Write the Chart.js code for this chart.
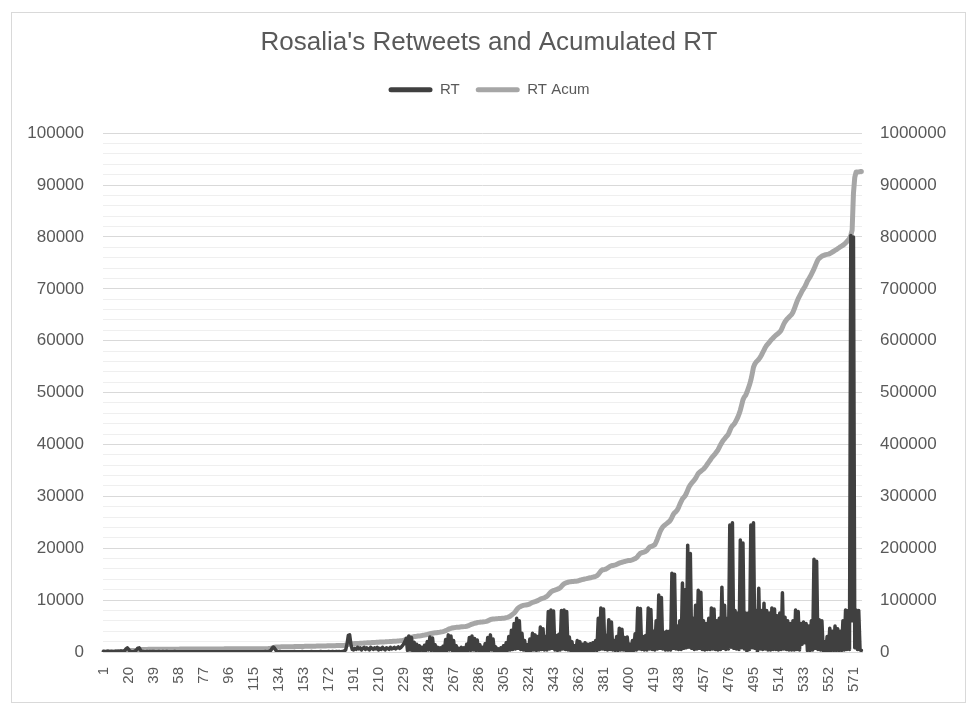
<!DOCTYPE html>
<html>
<head>
<meta charset="utf-8">
<script src="https://cdn.jsdelivr.net/npm/chart.js@4.4.1/dist/chart.umd.min.js"></script>
<style>
  html, body { margin: 0; padding: 0; background: #ffffff; }
  #wrap { width: 973px; height: 708px; }
</style>
</head>
<body>
<div id="wrap"><canvas id="chart" width="973" height="708"></canvas></div>
<script>
// Retweets per tweet (left axis)
const rt = [
  120, 80, 60, 150, 90, 40, 110, 70, 60, 130,
  90, 150, 70, 200, 120, 150, 250, 600, 800, 500,
  150, 90, 60, 120, 200, 400, 750, 800, 350, 120,
  90, 50, 70, 110, 60, 90, 40, 80, 120, 60,
  70, 40, 90, 60, 30, 80, 50, 40, 100, 60,
  40, 70, 30, 50, 80, 40, 60, 30, 70, 50,
  40, 60, 30, 50, 40, 70, 30, 50, 60, 40,
  30, 50, 70, 40, 60, 30, 50, 40, 70, 30,
  60, 40, 50, 30, 70, 40, 60, 50, 30, 60,
  40, 70, 30, 50, 60, 40, 30, 70, 50, 40,
  60, 30, 50, 40, 70, 50, 30, 60, 40, 50,
  70, 40, 30, 60, 50, 40, 70, 30, 50, 60,
  40, 60, 50, 80, 60, 90, 150, 300, 700, 950,
  700, 300, 120, 60, 80, 50, 70, 40, 60, 50,
  50, 70, 40, 60, 30, 80, 50, 40, 70, 60,
  40, 80, 50, 30, 60, 70, 40, 50, 80, 60,
  30, 60, 50, 70, 40, 90, 50, 60, 40, 70,
  50, 80, 40, 60, 90, 50, 70, 100, 60, 80,
  60, 80, 120, 200, 400, 1500, 3200, 3300, 1400, 500,
  400, 700, 500, 900, 600, 800, 400, 700, 900, 500,
  800, 600, 400, 900, 700, 500, 800, 600, 900, 400,
  700, 500, 900, 600, 400, 800, 700, 500, 900, 600,
  700, 900, 600, 800, 1000, 700, 900, 1200, 1500, 2000,
  2600, 300, 3100, 400, 2800, 200, 1900, 300, 1500, 200,
  1200, 300, 900, 200, 1300, 300, 2000, 400, 2900, 300,
  2700, 300, 1400, 200, 900, 100, 800, 200, 1100, 200,
  2400, 300, 3300, 400, 3100, 300, 2200, 200, 1200, 200,
  700, 100, 900, 200, 800, 100, 1500, 300, 2800, 300,
  3100, 400, 2600, 300, 2300, 300, 1400, 200, 900, 100,
  1600, 200, 2800, 300, 3300, 400, 2500, 200, 1000, 100,
  600, 100, 800, 200, 1200, 200, 1800, 300, 3000, 400,
  4200, 500, 5500, 600, 6500, 700, 6000, 500, 3600, 400,
  2200, 300, 1400, 200, 2500, 300, 3600, 400, 3300, 300,
  3000, 400, 4800, 500, 4500, 400, 3000, 400, 7800, 600,
  8100, 700, 7900, 400, 3200, 300, 3400, 400, 8000, 600,
  8100, 500, 7800, 400, 2900, 300, 2000, 200, 1200, 100,
  2200, 200, 2000, 300, 1500, 200, 1800, 300, 1500, 200,
  1600, 200, 1800, 300, 2200, 300, 6500, 500, 8500, 600,
  8300, 500, 3200, 400, 6200, 500, 5800, 400, 2200, 300,
  3000, 300, 4600, 400, 4400, 400, 2800, 300, 2900, 200,
  1500, 200, 2200, 300, 3500, 400, 8500, 600, 8400, 500,
  3000, 400, 3200, 400, 8500, 600, 8200, 500, 4000, 400,
  6000, 600, 11000, 700, 10500, 600, 3800, 400, 4000, 400,
  4000, 400, 15200, 700, 15000, 600, 5000, 500, 6000, 500,
  13300, 700, 12000, 800, 20600, 900, 19000, 700, 6500, 500,
  9000, 600, 11900, 700, 11500, 500, 6000, 400, 5500, 500,
  6500, 500, 8500, 600, 8300, 500, 6000, 400, 6500, 500,
  12500, 700, 9000, 500, 6500, 600, 24500, 900, 24900, 700,
  8000, 600, 7500, 500, 21600, 800, 21000, 600, 7500, 100,
  7500, 500, 24500, 800, 24900, 700, 8000, 100, 12300, 600,
  8000, 500, 9400, 600, 8000, 400, 7500, 400, 8500, 500,
  8300, 500, 7000, 400, 7500, 500, 11400, 600, 6700, 500,
  6000, 400, 5500, 400, 6000, 400, 8100, 500, 7800, 400,
  5500, 1500, 5800, 1800, 5500, 300, 5000, 300, 6000, 400,
  17900, 700, 17500, 500, 6200, 400, 6000, 300, 2000, 100,
  3000, 200, 4600, 300, 4000, 300, 5000, 300, 4500, 300,
  4000, 300, 6000, 400, 8100, 500, 8000, 500, 80300, 6000,
  80000, 800, 8100, 500, 8000, 400, 300
];

// Accumulated retweets (right axis)
const rtAcum = [
  0, 100, 200, 300, 350, 400, 450, 500, 520, 600,
  650, 700, 750, 800, 900, 1000, 1200, 1600, 2200, 2600,
  2700, 2800, 2850, 2900, 3000, 3300, 3900, 4500, 4800, 4900,
  4950, 5000, 5020, 5050, 5080, 5100, 5120, 5150, 5180, 5200,
  5220, 5240, 5260, 5280, 5300, 5320, 5340, 5360, 5380, 5400,
  5420, 5440, 5450, 5470, 5490, 5500, 5520, 5530, 5550, 5560,
  5580, 5590, 5600, 5620, 5630, 5650, 5660, 5680, 5690, 5700,
  5720, 5730, 5750, 5760, 5780, 5790, 5800, 5820, 5830, 5850,
  5860, 5880, 5890, 5900, 5920, 5930, 5950, 5960, 5980, 5990,
  6000, 6020, 6030, 6050, 6060, 6080, 6090, 6100, 6120, 6130,
  6150, 6160, 6180, 6190, 6200, 6220, 6230, 6250, 6260, 6280,
  6290, 6300, 6320, 6330, 6350, 6360, 6380, 6390, 6400, 6420,
  6430, 6450, 6460, 6480, 6500, 6550, 6700, 7000, 7700, 8600,
  9300, 9600, 9700, 9760, 9840, 9890, 9960, 10000, 10060, 10110,
  10160, 10230, 10270, 10330, 10360, 10440, 10490, 10530, 10600, 10660,
  10700, 10780, 10830, 10860, 10920, 10990, 11030, 11080, 11160, 11220,
  11250, 11310, 11360, 11430, 11470, 11560, 11610, 11670, 11710, 11780,
  11830, 11910, 11950, 12010, 12100, 12150, 12220, 12320, 12380, 12460,
  12500, 12600, 12700, 12900, 13200, 13800, 14600, 15300, 15700, 15900,
  16000, 16200, 16300, 16500, 16600, 16800, 16900, 17100, 17300, 17400,
  17600, 17700, 17800, 18000, 18200, 18300, 18500, 18600, 18800, 18900,
  19100, 19200, 19400, 19500, 19600, 19800, 20000, 20100, 20300, 20400,
  20600, 20800, 20900, 21100, 21400, 21600, 21900, 22300, 22800, 23500,
  25000, 26500, 27500, 28000, 28600, 29000, 29700, 30000, 30300, 30700,
  31000, 31300, 31800, 32400, 32700, 33100, 33800, 34600, 35300, 35800,
  36200, 36600, 36900, 37100, 37500, 37800, 38400, 38800, 39400, 40200,
  41100, 42300, 43600, 44800, 45500, 46300, 46800, 47100, 47500, 47700,
  47900, 48200, 48500, 48700, 48900, 49200, 49600, 50300, 51500, 52800,
  53800, 54500, 55300, 55800, 56700, 57100, 57400, 57600, 57900, 58100,
  58500, 59100, 60000, 61200, 62400, 63200, 63600, 63800, 64000, 64300,
  64400, 64600, 64700, 65000, 65200, 65600, 66200, 66800, 67700, 68900,
  71000, 73000, 75000, 78000, 81500, 84500, 86500, 87800, 89000, 89800,
  90300, 90700, 91000, 91700, 92800, 94200, 95500, 96400, 97000, 98000,
  99000, 100500, 102000, 103000, 103700, 104600, 105800, 107500, 110000, 112800,
  115600, 117400, 118500, 119200, 120100, 121200, 122200, 123800, 126400, 129200,
  131500, 132800, 133700, 134400, 135100, 135600, 135900, 136100, 136300, 136400,
  136800, 137400, 138300, 139100, 139600, 140300, 140900, 141400, 142000, 142600,
  143200, 143700, 144400, 145000, 145900, 147000, 149500, 152800, 156000, 158400,
  158600, 159200, 160000, 161600, 163400, 165200, 166200, 166800, 167300, 168000,
  168800, 170200, 171500, 172400, 173000, 173800, 174300, 175100, 175800, 176200,
  176500, 177000, 177700, 178900, 179800, 181600, 184500, 187600, 190200, 191300,
  192100, 192700, 193800, 196000, 199100, 202100, 203200, 204100, 205600, 206700,
  212000, 218000, 225000, 232000, 237000, 241000, 243500, 245500, 247500, 249500,
  251500, 254500, 259500, 265000, 268500, 270500, 273500, 278500, 284500, 290000,
  295000, 298000, 301000, 306000, 312000, 318000, 322000, 325500, 328500, 331500,
  335000, 339500, 344000, 346500, 348500, 350500, 352500, 355500, 358500, 362500,
  366000, 369500, 373500, 376500, 379500, 382500, 386000, 389500, 394500, 399500,
  404000, 408000, 411000, 414000, 417000, 420500, 426500, 432500, 436000, 438500,
  442000, 447000, 452000, 458500, 466000, 476000, 486000, 491500, 494500, 500500,
  507500, 515000, 524000, 536000, 549000, 555000, 559000, 561500, 564000, 567500,
  572000, 577000, 582000, 587000, 591000, 594000, 597000, 600000, 603000, 605500,
  608000, 610500, 612500, 614500, 617000, 620000, 626000, 632000, 636500, 640000,
  643000, 645500, 648000, 650500, 655000, 661000, 668000, 675000, 681000, 686000,
  691000, 696000, 700000, 704000, 709000, 715000, 719000, 723000, 728000, 733000,
  738500, 744500, 750500, 756000, 759000, 761000, 763000, 764000, 765000, 766000,
  766500, 767000, 768000, 769500, 771000, 772500, 774000, 775500, 777500, 779000,
  781000, 782500, 784000, 786000, 788500, 791000, 794000, 797000, 803000, 813000,
  884000, 915000, 925000, 925000, 925500, 926000, 926000
];

// Tweet numbers shown under the category axis
const xTickLabels = ['1','20','39','58','77','96','115','134','153','172','191','210','229','248','267','286','305','324','343','362','381','400','419','438','457','476','495','514','533','552','571'];

// Tweet index categories 1..N
const categories = [];
for (let i = 1; i <= rt.length; i++) categories.push(String(i));

const FONT = "'Liberation Sans', Arial, sans-serif";
const TEXT = '#595959';
Chart.defaults.font.family = FONT;

// White background with a thin frame around the whole chart
const frame = {
  id: 'frame',
  beforeDraw(chart) {
    const c = chart.ctx;
    c.save();
    c.fillStyle = '#ffffff';
    c.fillRect(0, 0, chart.width, chart.height);
    c.strokeStyle = '#d9d9d9';
    c.lineWidth = 1;
    c.strokeRect(11.5, 12.5, 954, 690);
    c.restore();
  }
};

// Extra space between the legend and the plot
const legendGap = {
  id: 'legendGap',
  beforeInit(chart) {
    const fit = chart.legend.fit;
    chart.legend.fit = function () {
      fit.call(this);
      this.height += 26;
    };
  }
};

new Chart(document.getElementById('chart'), {
  type: 'line',
  data: {
    labels: categories,
    datasets: [
      {
        label: 'RT',
        data: rt,
        yAxisID: 'y',
        borderColor: '#404040',
        backgroundColor: '#404040',
        borderWidth: 3.5,
        pointRadius: 0,
        tension: 0,
        borderJoinStyle: 'round',
        borderCapStyle: 'round'
      },
      {
        label: 'RT Acum',
        data: rtAcum,
        yAxisID: 'y1',
        borderColor: '#a6a6a6',
        backgroundColor: '#a6a6a6',
        borderWidth: 5,
        pointRadius: 0,
        tension: 0,
        borderJoinStyle: 'round',
        borderCapStyle: 'round'
      }
    ]
  },
  options: {
    responsive: false,
    animation: false,
    events: [],
    layout: { padding: { left: 12, right: 7, top: 0, bottom: 0 } },
    plugins: {
      title: {
        display: true,
        text: "Rosalia's Retweets and Acumulated RT",
        color: TEXT,
        font: { family: FONT, size: 26, weight: 'normal' },
        padding: { top: 27, bottom: 8 }
      },
      legend: {
        display: true,
        position: 'top',
        labels: {
          color: TEXT,
          font: { family: FONT, size: 15 },
          boxWidth: 44,
          boxHeight: 5,
          padding: 16,
          useBorderRadius: true,
          borderRadius: 2.5,
          generateLabels(chart) {
            const items = Chart.defaults.plugins.legend.labels.generateLabels(chart);
            items.forEach(it => { it.lineWidth = 0; it.fillStyle = it.strokeStyle; });
            return items;
          }
        }
      },
      tooltip: { enabled: false }
    },
    scales: {
      x: {
        type: 'category',
        offset: true,
        grid: { display: false, drawTicks: false },
        border: { display: true, color: '#d9d9d9', width: 1 },
        ticks: {
          autoSkip: false,
          minRotation: 90,
          maxRotation: 90,
          padding: 15,
          color: TEXT,
          font: { family: FONT, size: 15 },
          callback(value, index) {
            const l = categories[index];
            return xTickLabels.includes(l) ? l : '';
          }
        },
        afterFit(scale) { scale.height = 56; }
      },
      y: {
        position: 'left',
        min: 0,
        max: 100000,
        border: { display: false },
        grid: {
          drawTicks: false,
          lineWidth: 1,
          color: ctx => (ctx.tick && ctx.tick.value % 10000 === 0) ? '#d9d9d9' : '#efefef'
        },
        ticks: {
          stepSize: 2000,
          autoSkip: false,
          padding: 19,
          color: TEXT,
          font: { family: FONT, size: 17 },
          callback: v => (v % 10000 === 0 ? String(v) : '')
        },
        afterFit(scale) { scale.width = 91; }
      },
      y1: {
        position: 'right',
        min: 0,
        max: 1000000,
        border: { display: false },
        grid: { display: false, drawTicks: false },
        ticks: {
          stepSize: 100000,
          padding: 18,
          color: TEXT,
          font: { family: FONT, size: 17 },
          callback: v => String(v)
        },
        afterFit(scale) { scale.width = 104; }
      }
    }
  },
  plugins: [frame, legendGap]
});
</script>
</body>
</html>
